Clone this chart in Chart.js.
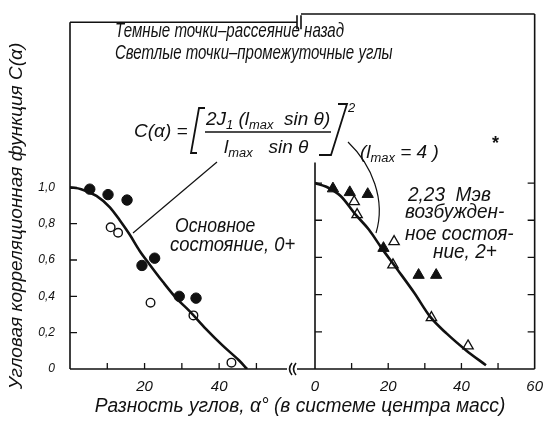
<!DOCTYPE html>
<html>
<head>
<meta charset="utf-8">
<script src="https://cdn.jsdelivr.net/npm/chart.js@4.4.0/dist/chart.umd.min.js"></script>
<style>
  body { margin: 0; background: #fff; }
  #wrap { position: relative; width: 552px; height: 421px; overflow: hidden; background: #fff; }
  canvas { position: absolute; left: 0; top: 0; }
  .t { position: absolute; font-family: 'Liberation Sans', 'DejaVu Sans', sans-serif;
       font-style: italic; color: #111; white-space: nowrap; line-height: 1; transform-origin: left top; }
  .sub { font-size: 0.68em; position: relative; top: 0.3em; }
  svg { position: absolute; left: 0; top: 0; }
</style>
</head>
<body>
<div id="wrap">
  <canvas id="left" width="552" height="421"></canvas>
  <canvas id="right" width="552" height="421"></canvas>

  <svg width="552" height="421" fill="none" stroke="#111">
    <!-- formula brackets and fraction bar -->
    <path d="M205,108 L199,108 L191,153 L197,153" stroke-width="1.8"/>
    <path d="M338,104 L347,104 L331,155 L319,155" stroke-width="1.8"/>
    <line x1="205" y1="132" x2="331" y2="132" stroke-width="1.5"/>
    <!-- leader lines -->
    <line x1="217" y1="162" x2="133" y2="233" stroke-width="1.2"/>
    <path d="M348,142 C372,165 386,200 376,233" stroke-width="1.2"/>
  </svg>

  <div class="t" style="left:115px;top:19px;font-size:21px;transform:scaleX(0.72)">Темные точки–рассеяние назад</div>
  <div class="t" style="left:115px;top:41px;font-size:21px;transform:scaleX(0.715)">Светлые точки–промежуточные углы</div>

  <div class="t" style="left:134px;top:121px;font-size:19px">C(α) =</div>
  <div class="t" style="left:206px;top:109px;font-size:19px">2J<span class="sub">1</span> (l<span class="sub">max</span>&nbsp; sin θ)</div>
  <div class="t" style="left:224px;top:137px;font-size:19px">l<span class="sub">max</span>&nbsp;&nbsp; sin θ</div>
  <div class="t" style="left:348px;top:101px;font-size:13px">2</div>
  <div class="t" style="left:360px;top:142px;font-size:19px">(l<span class="sub">max</span> = 4 )</div>
  <div class="t" style="left:492px;top:134px;font-size:18px;font-weight:bold;font-style:normal">*</div>

  <div class="t" style="left:175px;top:215px;font-size:20px;transform:scaleX(0.88)">Основное</div>
  <div class="t" style="left:170px;top:234px;font-size:20px;transform:scaleX(0.92)">состояние, 0+</div>

  <div class="t" style="left:408px;top:184px;font-size:20px;transform:scaleX(0.95)">2,23&nbsp;&nbsp;Мэв</div>
  <div class="t" style="left:405px;top:201px;font-size:20px;transform:scaleX(0.95)">возбужден-</div>
  <div class="t" style="left:405px;top:223px;font-size:20px;transform:scaleX(0.95)">ное состоя-</div>
  <div class="t" style="left:433px;top:241px;font-size:20px;transform:scaleX(0.95)">ние, 2+</div>

  <div class="t" style="left:15px;top:216px;font-size:19px;transform-origin:center;transform:translate(-50%,-50%) rotate(-90deg)">Угловая корреляционная функция C(α)</div>
  <div class="t" style="left:300px;top:395px;font-size:20px;transform-origin:center;transform:translateX(-50%) scaleX(0.96)">Разность углов, α° (в системе центра масс)</div>
</div>

<script>
// === DATA ===
const yTicks = [0, 0.2, 0.4, 0.6, 0.8, 1.0];
const xTickMarks = [10, 20, 30, 40, 50];
const xLabelsLeft = [20, 40];
const xLabelsRight = [0, 20, 40, 60];

// ground state 0+ (left panel)
const darkCircX = [5.3, 10.2, 15.3, 19.3, 22.7, 29.3, 33.8];
const darkCircY = [0.99, 0.96, 0.93, 0.57, 0.61, 0.40, 0.39];
const lightCircX = [10.9, 12.9, 21.6, 33.1, 43.3];
const lightCircY = [0.78, 0.75, 0.365, 0.295, 0.035];
const curveLeftX = [0, 3, 7.1, 10.7, 13.3, 16, 18.7, 21.3, 24.9, 28.5, 32, 36.5, 40.9, 45.3, 47.5];
const curveLeftY = [1.0, 0.99, 0.953, 0.89, 0.82, 0.74, 0.65, 0.577, 0.48, 0.39, 0.32, 0.22, 0.13, 0.048, 0];

// 2.23 MeV excited state 2+ (right panel)
const darkTriX = [4.9, 9.5, 14.4, 18.7, 28.3, 33.1];
const darkTriY = [0.97, 0.95, 0.94, 0.65, 0.505, 0.505];
const lightTriX = [10.7, 11.5, 21.6, 21.3, 31.8, 41.8];
const lightTriY = [0.90, 0.83, 0.685, 0.56, 0.276, 0.124];
const curveRightX = [0, 3.1, 7, 11.1, 14.7, 18.2, 22.7, 27.1, 31.5, 36, 41.3, 46.7];
const curveRightY = [1.0, 0.98, 0.93, 0.83, 0.75, 0.65, 0.53, 0.41, 0.28, 0.19, 0.10, 0.02];

const INK = '#111';
const pts = (xs, ys) => xs.map((x, i) => ({ x, y: ys[i] }));
const tickFont = (size) => ({ family: "'Liberation Sans', sans-serif", style: 'italic', size });

// === FRAME / TICKS / BREAKS ===
const frame = {
  id: 'frame',
  beforeDatasetsDraw(chart, args, o) {
    const { ctx, chartArea: a } = chart;
    const x = chart.scales.x, y = chart.scales.y;
    ctx.save();
    ctx.strokeStyle = INK;
    ctx.lineWidth = 1.6;
    ctx.beginPath();
    ctx.moveTo(a.left + o.topFrom, a.top); ctx.lineTo(a.right + o.topTo, a.top);
    ctx.moveTo(a.left + o.bottomFrom, a.bottom); ctx.lineTo(a.right, a.bottom);
    const yTop = o.leftAxisTop == null ? a.top : y.getPixelForValue(o.leftAxisTop);
    ctx.moveTo(a.left, yTop); ctx.lineTo(a.left, a.bottom);
    if (o.rightBorder) { ctx.moveTo(a.right, a.top); ctx.lineTo(a.right, a.bottom); }
    ctx.stroke();

    ctx.lineWidth = 1.3;
    ctx.beginPath();
    yTicks.forEach(v => {
      if (!v) return;
      const py = y.getPixelForValue(v);
      ctx.moveTo(a.left, py); ctx.lineTo(a.left + 7, py);
      if (o.rightBorder) { ctx.moveTo(a.right, py); ctx.lineTo(a.right - 7, py); }
    });
    xTickMarks.forEach(v => {
      const px = x.getPixelForValue(v);
      ctx.moveTo(px, a.bottom); ctx.lineTo(px, a.bottom - 6);
    });
    ctx.stroke();

    if (o.breaks) {
      ctx.lineWidth = 1.6;
      ctx.beginPath();
      // top break ||
      ctx.moveTo(a.right + 10, a.top - 7); ctx.lineTo(a.right + 10, a.top + 7);
      ctx.moveTo(a.right + 14, a.top - 7); ctx.lineTo(a.right + 14, a.top + 7);
      // bottom break ((
      ctx.moveTo(a.right + 5, a.bottom - 6); ctx.quadraticCurveTo(a.right, a.bottom, a.right + 5, a.bottom + 6);
      ctx.moveTo(a.right + 9, a.bottom - 6); ctx.quadraticCurveTo(a.right + 4, a.bottom, a.right + 9, a.bottom + 6);
      ctx.stroke();
    }
    ctx.restore();
  }
};

function panel(canvasId, padding, xMax, xLabels, showY, datasets, frameOpts) {
  return new Chart(document.getElementById(canvasId), {
    type: 'scatter',
    data: { datasets },
    options: {
      responsive: false,
      animation: false,
      devicePixelRatio: 1,
      layout: { padding },
      plugins: { legend: { display: false }, tooltip: { enabled: false }, frame: frameOpts },
      scales: {
        x: {
          type: 'linear', min: 0, max: xMax,
          grid: { display: false, drawTicks: false }, border: { display: false },
          afterFit: s => { s.height = 52; },
          afterBuildTicks: s => { s.ticks = xLabels.map(v => ({ value: v })); },
          ticks: { padding: 9, color: INK, font: tickFont(15), maxRotation: 0, autoSkip: false }
        },
        y: {
          type: 'linear', min: 0, max: 1.909,
          grid: { display: false, drawTicks: false }, border: { display: false },
          afterFit: s => { s.width = showY ? 70 : 0; },
          afterBuildTicks: s => { s.ticks = yTicks.map(v => ({ value: v })); },
          ticks: {
            display: showY, padding: 15, color: INK, font: tickFont(12), autoSkip: false,
            callback: v => v === 0 ? '0' : v.toFixed(1).replace('.', ',')
          }
        }
      }
    },
    plugins: [frame]
  });
}

const curveStyle = { showLine: true, borderColor: INK, borderWidth: 2.6, pointRadius: 0, cubicInterpolationMode: 'monotone' };

panel('left', { left: 0, top: 14, right: 265, bottom: 0 }, 58.2, xLabelsLeft, true, [
  { data: pts(curveLeftX, curveLeftY), ...curveStyle },
  { data: pts(darkCircX, darkCircY), pointStyle: 'circle', pointRadius: 5.2, backgroundColor: INK, borderColor: INK, borderWidth: 1 },
  { data: pts(lightCircX, lightCircY), pointStyle: 'circle', pointRadius: 4.3, backgroundColor: '#fff', borderColor: INK, borderWidth: 1.4 }
], { topFrom: 0, topTo: 10, bottomFrom: 0, leftAxisTop: null, rightBorder: false, breaks: true });

panel('right', { left: 315, top: 14, right: 14, bottom: 0 }, 60, xLabelsRight, false, [
  { data: pts(curveRightX, curveRightY), ...curveStyle },
  { data: pts(darkTriX, darkTriY), pointStyle: 'triangle', pointRadius: 6.5, backgroundColor: INK, borderColor: INK, borderWidth: 1 },
  { data: pts(lightTriX, lightTriY), pointStyle: 'triangle', pointRadius: 6, backgroundColor: '#fff', borderColor: INK, borderWidth: 1.3 }
], { topFrom: -14, topTo: 0, bottomFrom: -18, leftAxisTop: 1.11, rightBorder: true, breaks: false });
</script>
</body>
</html>
